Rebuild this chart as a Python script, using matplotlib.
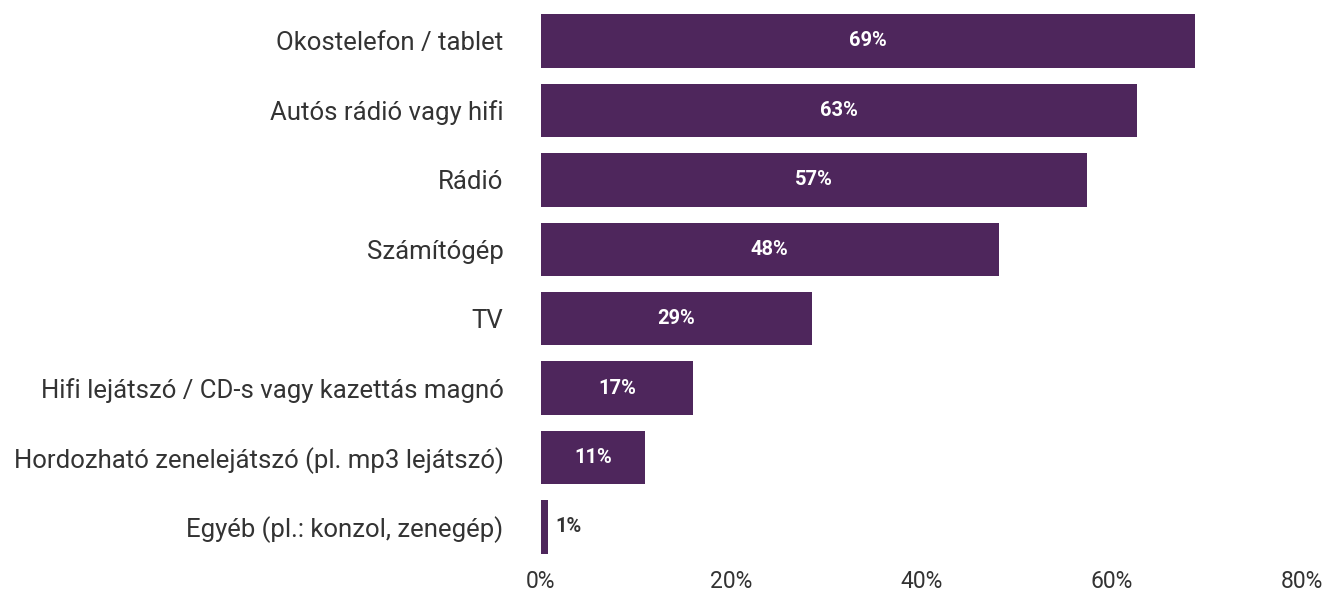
import matplotlib.pyplot as plt

plt.rcParams['font.family'] = ['Roboto', 'DejaVu Sans']

# data
categories = ['Okostelefon / tablet', 'Autós rádió vagy hifi', 'Rádió', 'Számítógép', 'TV',
              'Hifi lejátszó / CD-s vagy kazettás magnó',
              'Hordozható zenelejátszó (pl. mp3 lejátszó)',
              'Egyéb (pl.: konzol, zenegép)']
values = [68.8, 62.7, 57.4, 48.1, 28.5, 16.0, 10.9, 0.7]
labels = ['69%', '63%', '57%', '48%', '29%', '17%', '11%', '1%']
ticks = [0, 20, 40, 60, 80]

bar_color = '#4E265C'
text_color = '#333333'

fig = plt.figure(figsize=(13.24, 6.03), dpi=100)
ax = fig.add_axes([0.4086, 0.0685, 0.9834 - 0.4086, 0.9896 - 0.0685])

y = list(range(len(categories)))
ax.barh(y, values, height=0.77, color=bar_color)

for yi, v, lab in zip(y, values, labels):
    if v > 5:
        ax.text(v / 2, yi, lab, ha='center', va='center', color='white',
                fontsize=14.5, fontweight='bold')
    else:
        ax.text(v + 0.8, yi, lab, ha='left', va='center', color=text_color,
                fontsize=14.5, fontweight='bold')

ax.set_ylim(len(categories) - 0.5, -0.5)
ax.set_xlim(0, 80)
ax.set_yticks(y)
ax.set_yticklabels(categories, fontsize=18.5, color=text_color)
ax.set_xticks(ticks)
ax.set_xticklabels([f'{t}%' for t in ticks], fontsize=16.5, color=text_color)
ax.tick_params(length=0)
ax.tick_params(axis='y', pad=27)
ax.tick_params(axis='x', pad=6)
for s in ax.spines.values():
    s.set_visible(False)

fig.savefig('out.png', dpi=100)
